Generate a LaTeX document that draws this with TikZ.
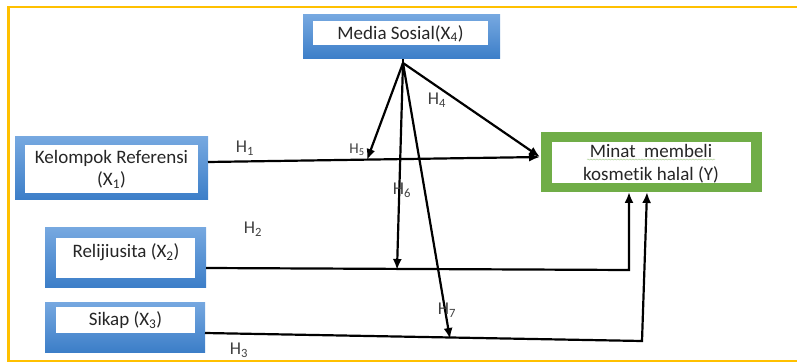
\documentclass[tikz,border=0pt]{standalone}
\usepackage{fontspec}
\setmainfont{Carlito}[Ligatures={NoCommon}]
\usetikzlibrary{arrows.meta,decorations.pathmorphing}
\definecolor{frameyel}{RGB}{255,192,0}
\definecolor{boxgreen}{RGB}{112,173,71}
\definecolor{bluetop}{RGB}{118,168,224}
\definecolor{bluebot}{RGB}{60,126,200}
\definecolor{txt}{RGB}{38,38,38}
\definecolor{lbl}{RGB}{64,64,64}
\tikzset{
  blueout/.style={rectangle,inner sep=0pt,top color=bluetop,bottom color=bluebot,draw=none},
  whitein/.style={rectangle,inner sep=0pt,fill=white,draw=none},
  greenout/.style={rectangle,inner sep=0pt,fill=boxgreen,draw=none},
  boxtext/.style={inner sep=0pt,text=txt,font=\fontsize{19}{22.5}\selectfont,align=center},
  hlabel/.style={inner sep=0pt,text=lbl,font=\fontsize{18}{20}\selectfont},
  conn/.style={line width=2.2pt,black},
  arr/.style={conn,-{Latex[length=11pt,width=9pt]}},
  frame/.style={line width=2.5pt,frameyel}
}
\begin{document}
\begin{tikzpicture}[x=1pt,y=-1pt]
\useasboundingbox (0,0) rectangle (797,363);
% frame
\coordinate (f1) at (797,7);
\coordinate (f2) at (8.5,7);
\coordinate (f3) at (8.5,361);
\coordinate (f4) at (797,361);
\draw[frame] (f1) -- (f2) -- (f3) -- (f4);

% Media Sosial
\node[blueout,minimum width=197pt,minimum height=44pt] (media) at (401.5,37) {};
\node[whitein,minimum width=175pt,minimum height=24pt] (mediain) at (400.5,33.5) {};
\node[boxtext] (mediat) at (400.5,33.5) {Media Sosial(X\textsubscript{4})};

% Kelompok Referensi
\node[blueout,minimum width=193pt,minimum height=63pt] (kel) at (111.5,168.5) {};
\node[whitein,minimum width=173pt,minimum height=48pt] (kelin) at (111.5,169) {};
\node[boxtext] (kelt) at (111.5,169) {Kelompok Referensi\\(X\textsubscript{1})};

% Relijiusita
\node[blueout,minimum width=161pt,minimum height=59pt] (rel) at (125.5,257.5) {};
\node[whitein,minimum width=139pt,minimum height=40pt] (relin) at (125.5,258) {};
\node[boxtext] (relt) at (126,252) {Relijiusita (X\textsubscript{2})};

% Sikap
\node[blueout,minimum width=160pt,minimum height=50pt] (sik) at (125,327) {};
\node[whitein,minimum width=139pt,minimum height=26pt] (sikin) at (125.5,320) {};
\node[boxtext] (sikt) at (125.5,320) {Sikap (X\textsubscript{3})};

% Minat
\node[greenout,minimum width=221pt,minimum height=60pt] (minat) at (651.5,162) {};
\node[whitein,minimum width=199pt,minimum height=41pt] (minatin) at (651.5,162.5) {};
\node[boxtext] (minatt) at (651,163.5) {Minat\ \ membeli\\kosmetik halal (Y)};
\coordinate (sq1) at (587,159.5);
\coordinate (sq2) at (715,159.5);
\draw[boxgreen!55,line width=0.5pt,decorate,decoration={snake,amplitude=0.5pt,segment length=3pt}] (sq1) -- (sq2);

% connector points
\coordinate (apex) at (403,63);
\coordinate (k1) at (208,162);
\coordinate (t1) at (540,157);
\coordinate (t5) at (367,160);
\coordinate (t6) at (397,270);
\coordinate (t7) at (450,339);
\coordinate (r1) at (206,268);
\coordinate (c2) at (629,270);
\coordinate (t2) at (629,192);
\coordinate (s1) at (205,333);
\coordinate (c3) at (642,341);
\coordinate (t3) at (647,192);

\draw[conn] (apex |- media.south) -- (apex);
\draw[arr] (apex) -- (t1);
\draw[arr] (k1) -- (t1);
\draw[arr] (apex) -- (t5);
\draw[arr] (apex) -- (t6);
\draw[arr] (apex) -- (t7);
\draw[arr] (r1) -- (c2) -- (t2);
\draw[arr] (s1) -- (c3) -- (t3);

% labels
\node[hlabel] (h1) at (245,148) {H\textsubscript{1}};
\node[hlabel] (h2) at (253,229) {H\textsubscript{2}};
\node[hlabel] (h3) at (239,350) {H\textsubscript{3}};
\node[hlabel] (h4) at (437,100) {H\textsubscript{4}};
\node[hlabel,font=\fontsize{15}{17}\selectfont] (h5) at (357,150) {H\textsubscript{5}};
\node[hlabel] (h6) at (402,190) {H\textsubscript{6}};
\node[hlabel] (h7) at (447,310) {H\textsubscript{7}};
\end{tikzpicture}
\end{document}
